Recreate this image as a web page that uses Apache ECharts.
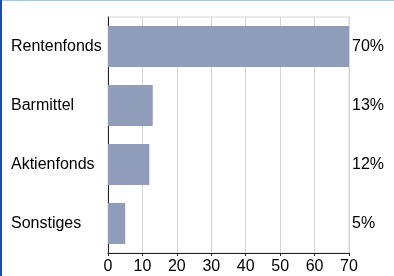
<!DOCTYPE html>
<html>
<head>
<meta charset="utf-8">
<script src="https://cdn.jsdelivr.net/npm/echarts@6/dist/echarts.min.js"></script>
<style>
  html, body { margin: 0; padding: 0; background: #fff; }
  #wrap { position: relative; width: 394px; height: 276px; }
  #chart { width: 394px; height: 276px; }
  #edgeLeft { position: absolute; left: 0; top: 0; width: 2px; height: 276px; background: #1d4f9a; }
  #edgeTop { position: absolute; left: 0; top: 0; width: 394px; height: 1px; background: #a9c3e3; }
</style>
</head>
<body>
<div id="wrap">
  <div id="chart"></div>
  <div id="edgeTop"></div>
  <div id="edgeLeft"></div>
</div>
<script>
// Data
const categories = ['Rentenfonds', 'Barmittel', 'Aktienfonds', 'Sonstiges'];
const values = [70, 13, 12, 5];
const percentLabels = values.map(v => v + '%');

const font = 'Liberation Sans, Arial, sans-serif';

const chart = echarts.init(document.getElementById('chart'));

chart.setOption({
  animation: false,
  grid: {
    left: 108, right: 45, top: 17, bottom: 23,
    show: true, borderColor: '#d4d4d4', borderWidth: 1
  },
  xAxis: {
    type: 'value',
    min: 0, max: 70, interval: 10,
    axisLine: { show: true, lineStyle: { color: '#222', width: 1 } },
    axisTick: { show: true, length: 3, lineStyle: { color: '#222' } },
    splitLine: { show: true, lineStyle: { color: '#d4d4d4', width: 1 } },
    axisLabel: { color: '#000', fontSize: 16, fontFamily: font, margin: 6 }
  },
  yAxis: [
    {
      type: 'category',
      inverse: true,
      data: categories,
      axisLine: { show: true, lineStyle: { color: '#222', width: 1 } },
      axisTick: { show: false },
      axisLabel: { color: '#000', fontSize: 16, fontFamily: font, align: 'left', margin: 97 }
    },
    {
      type: 'category',
      inverse: true,
      position: 'right',
      data: percentLabels,
      axisLine: { show: false },
      axisTick: { show: false },
      axisLabel: { color: '#000', fontSize: 16, fontFamily: font, margin: 3 }
    }
  ],
  series: [{
    type: 'bar',
    data: values,
    barWidth: 41,
    itemStyle: { color: '#8f9dbb' },
    silent: true
  }]
});
</script>
</body>
</html>
